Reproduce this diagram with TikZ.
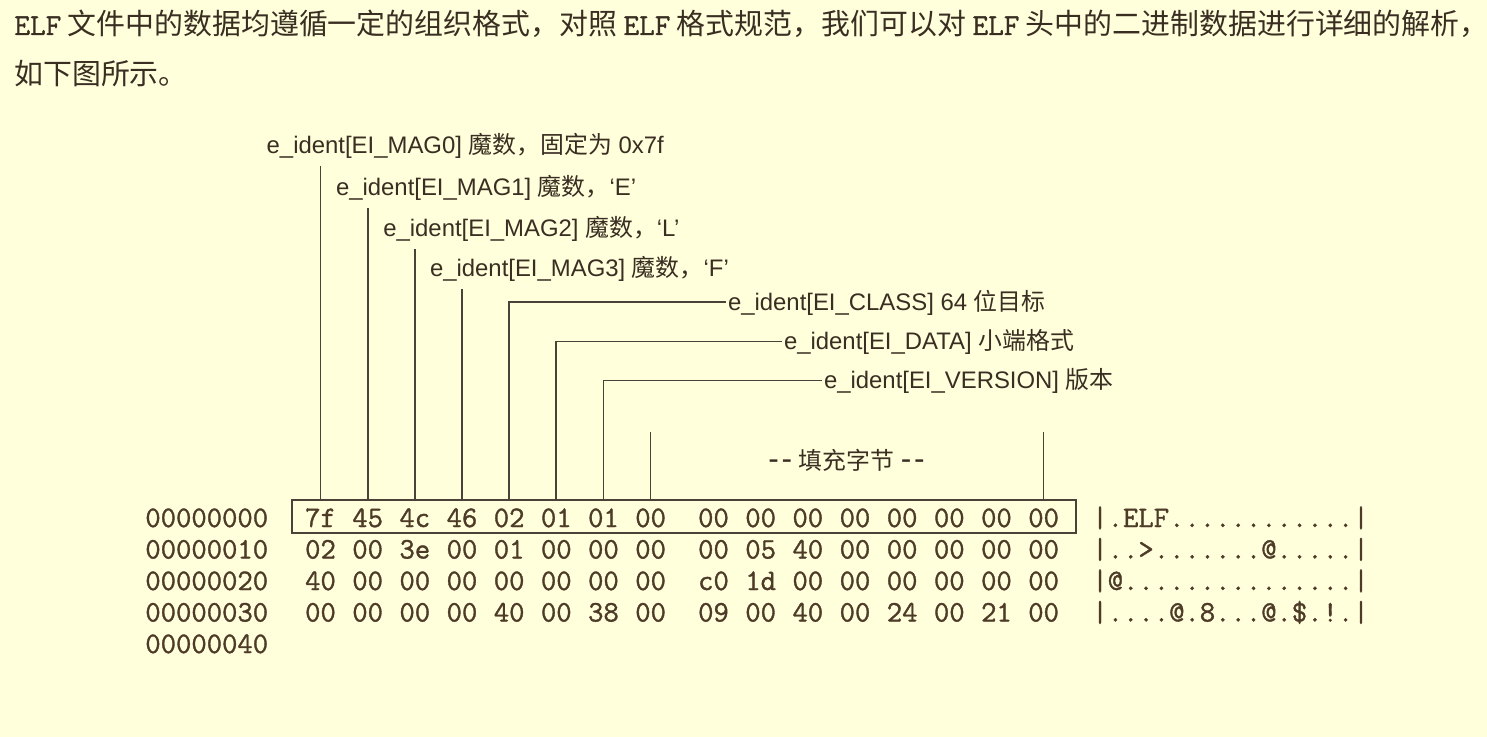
\documentclass[tikz,border=0pt]{standalone}
\usepackage{fontspec}
\setmainfont{Liberation Sans}
\newfontfamily\cjk{Noto Sans CJK SC}
\newfontfamily\hexfont{Latin Modern Mono}[FakeBold=1.2]
\definecolor{paper}{HTML}{FFFFDC}
\definecolor{ink}{HTML}{3A2E22}
\definecolor{hexink}{HTML}{4D3B28}
\definecolor{rule}{HTML}{4A4238}
\begin{document}
\begin{tikzpicture}[scale=0.2]
\tikzstyle{every node}+=[inner sep=0pt, text=ink]
\tikzstyle{lbl}=[anchor=base west, outer xsep=0pt, outer ysep=4.5pt, font=\fontsize{13.6}{16}\selectfont]
\tikzstyle{hx}=[anchor=base, text=hexink, font=\hexfont\fontsize{16.96}{20}\selectfont]
\tikzstyle{lead}=[draw=rule, line width=1pt]
\fill [paper] (0,0) rectangle (148.7,-73.7);
\useasboundingbox (0,0) rectangle (148.7,-73.7);
% intro text
\node [anchor=base west, font=\cjk\fontsize{16.45}{20}\selectfont] (p1) at (1.4,-3.5) {{\hexfont\fontsize{17.3}{20}\selectfont ELF} 文件中的数据均遵循一定的组织格式，对照 {\hexfont\fontsize{17.3}{20}\selectfont ELF} 格式规范，我们可以对 {\hexfont\fontsize{17.3}{20}\selectfont ELF} 头中的二进制数据进行详细的解析，};
\node [anchor=base west, font=\cjk\fontsize{16.45}{20}\selectfont] (p2) at (1.4,-8.4) {如下图所示。};
% hex dump
\foreach \r/\off/\asc/\bytes in {0/00000000/{|.ELF............|}/{7f,45,4c,46,02,01,01,00,00,00,00,00,00,00,00,00},
  1/00000010/{|..>.......@.....|}/{02,00,3e,00,01,00,00,00,00,05,40,00,00,00,00,00},
  2/00000020/{|@...............|}/{40,00,00,00,00,00,00,00,c0,1d,00,00,00,00,00,00},
  3/00000030/{|....@.8...@.\$.!.|}/{00,00,00,00,40,00,38,00,09,00,40,00,24,00,21,00}} {
  \node [hx, anchor=base west] (o\r) at (14.5,{-52.7-3.15*\r}) {\off};
  \foreach \v [count=\c from 0] in \bytes
    \node [hx] (h\r c\c) at ({32.05+4.716*\c+1.572*(\c>7)},{-52.7-3.15*\r}) {\v};
  \node [hx, anchor=base west] (a\r) at (109.2,{-52.7-3.15*\r}) {\asc};
}
\node [hx, anchor=base west] (o4) at (14.5,-65.3) {00000040};
\draw [lead] (29.17,-50.0) rectangle (107.6,-53.33);
\coordinate (top) at (0,-50.0);
\coordinate (padtop) at (0,-43.2);
% field labels
\node [lbl] (m0) at (26.67,-15.3) {e\_ident[EI\_MAG0] {\cjk 魔数，固定为} 0x7f};
\node [lbl] (m1) at (33.6,-19.5) {e\_ident[EI\_MAG1] {\cjk 魔数，}‘E’};
\node [lbl] (m2) at (38.33,-23.6) {e\_ident[EI\_MAG2] {\cjk 魔数，}‘L’};
\node [lbl] (m3) at (43.0,-27.6) {e\_ident[EI\_MAG3] {\cjk 魔数，}‘F’};
\node [lbl] (cls) at (72.8,-31.0) {e\_ident[EI\_CLASS] 64 {\cjk 位目标}};
\node [lbl] (dat) at (78.4,-34.9) {e\_ident[EI\_DATA] {\cjk 小端格式}};
\node [lbl] (ver) at (82.4,-38.8) {e\_ident[EI\_VERSION] {\cjk 版本}};
\node [font=\fontsize{13.6}{16}\selectfont] (pad) at (84.65,-46.0) {{\fontsize{18}{20}\selectfont -\kern1.5pt-} {\cjk 填充字节} {\fontsize{18}{20}\selectfont -\kern1.5pt-}};
% leaders
\draw [lead] (m0.south -| h0c0) -- (h0c0 |- top);
\draw [lead] (m1.south -| h0c1) -- (h0c1 |- top);
\draw [lead] (m2.south -| h0c2) -- (h0c2 |- top);
\draw [lead] (m3.south -| h0c3) -- (h0c3 |- top);
\draw [lead] ([xshift=-5.5pt]cls.west) -| (h0c4 |- top);
\draw [lead] ([xshift=-5.5pt]dat.west) -| (h0c5 |- top);
\draw [lead] ([xshift=-5.5pt]ver.west) -| (h0c6 |- top);
\draw [lead] (h0c7 |- padtop) -- (h0c7 |- top);
\draw [lead] (h0c15 |- padtop) -- (h0c15 |- top);
\end{tikzpicture}
\end{document}
